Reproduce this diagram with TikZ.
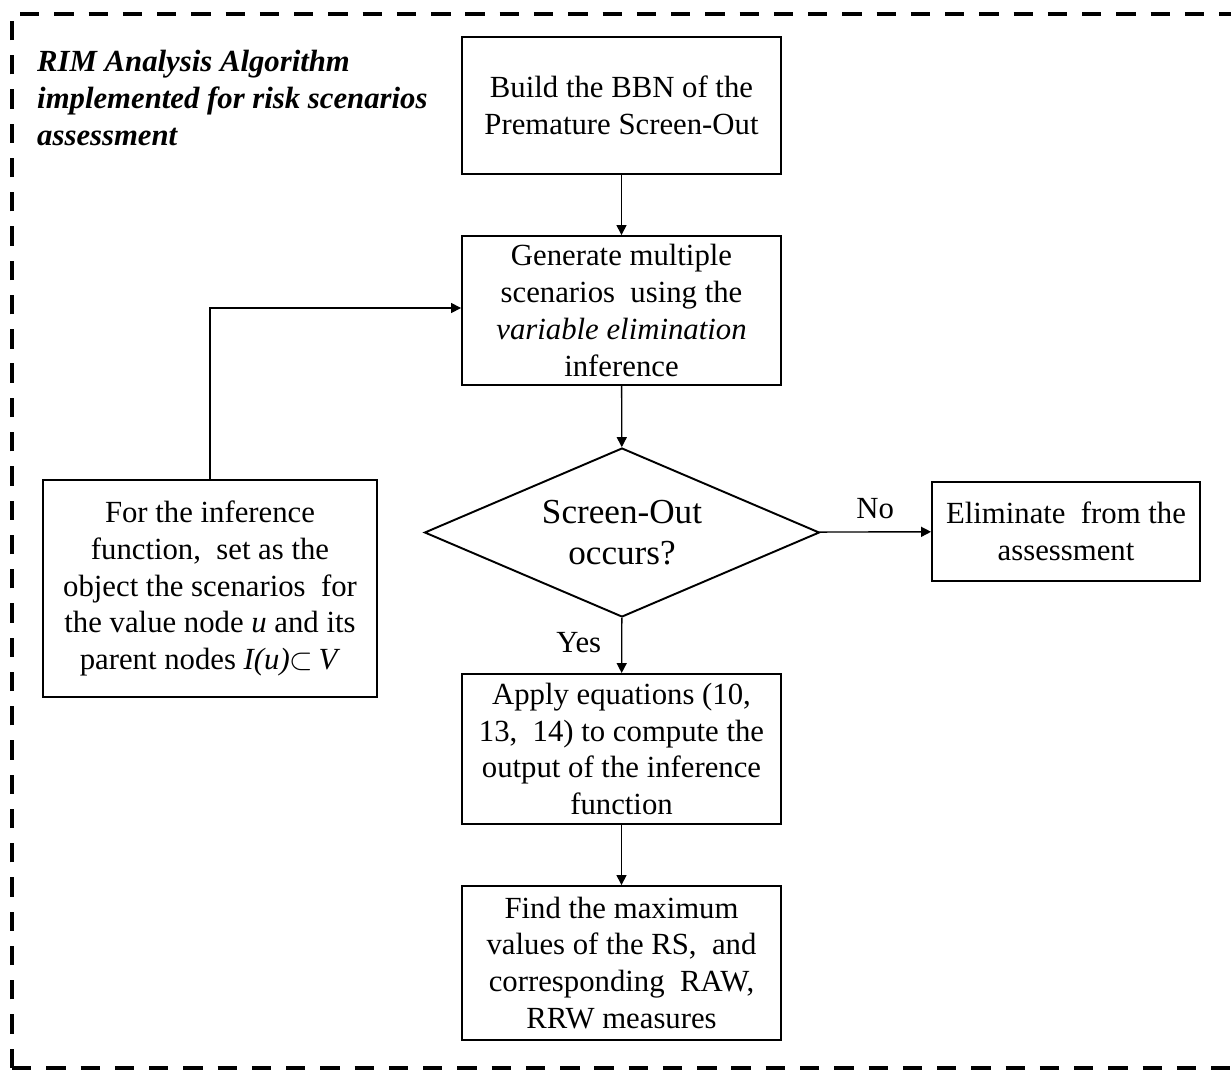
\documentclass[tikz,border=0pt]{standalone}
\usepackage{fontspec}
\setmainfont{Liberation Serif}
\usetikzlibrary{arrows.meta, positioning, shapes.geometric}

\tikzset{
  stepbox/.style={draw, line width=1.1pt, align=center, inner sep=0pt,
    minimum width=6.38cm, font=\fontsize{17.5}{21}\selectfont},
  decision/.style={draw, diamond, aspect=2.34, line width=1.1pt, align=center, inner sep=0pt,
    minimum width=7.9cm, minimum height=3.38cm, font=\fontsize{20}{23}\selectfont},
  flow/.style={line width=0.8pt, -{Triangle[length=0.2cm, width=0.2cm]}},
  lbl/.style={font=\fontsize{17.5}{21}\selectfont}
}

\begin{document}
\begin{tikzpicture}[x=0.02cm, y=-0.02cm]
  \useasboundingbox (0,0) rectangle (1231,1072);
  % outer dashed frame
  \draw[line width=2.3pt, dash pattern=on 11pt off 8.5pt] (12,1068) -- (12,14) -- (1280,14);
  \draw[line width=2.3pt, dash pattern=on 11pt off 8.5pt] (12,1068) -- (1280,1068);
  \node[anchor=north west, align=left, font=\fontsize{17.5}{21}\selectfont\bfseries\itshape]
    (title) at (31,44) {RIM Analysis Algorithm\\implemented for risk scenarios\\assessment};

  % flow chart
  \node[stepbox, minimum height=2.74cm] (build) at (621.5,105.5) {Build the BBN of the\\Premature Screen-Out};
  \node[stepbox, minimum height=2.98cm] (gen) at (621.5,310.5)
    {Generate multiple\\scenarios\ \ using the\\\textit{variable elimination}\\inference};
  \node[decision] (occ) at (622,532.5) {Screen-Out\\occurs?};
  \node[stepbox, minimum width=5.36cm, minimum height=1.98cm] (elim) at (1066,531.5)
    {Eliminate\ \ from the\\assessment};
  \node[stepbox, minimum width=6.68cm, minimum height=4.34cm] (obj) at (210,588.5)
    {For the inference\\function,\ \ set as the\\object the scenarios\ \ for\\the value node \textit{u} and its\\parent nodes \textit{I(u)}$\subset$\,\textit{V}};
  \node[stepbox, minimum height=3cm] (apply) at (621.5,749)
    {Apply equations (10,\\13,\ \ 14) to compute the\\output of the inference\\function};
  \node[stepbox, minimum height=3.08cm] (find) at (621.5,963)
    {Find the maximum\\values of the RS,\ \ and\\corresponding\ \ RAW,\\RRW measures};

  \draw[flow] (build) -- (gen);
  \draw[flow] (gen) -- (occ);
  \draw[flow] (occ) -- node[lbl, above=4pt] {No} (elim);
  \draw[flow] (occ) -- node[lbl, left=8pt, pos=0.45] {Yes} (apply);
  \draw[flow] (apply) -- (find);
  \draw[flow] (obj.north) |- (gen.west |- 0,308);
\end{tikzpicture}
\end{document}
